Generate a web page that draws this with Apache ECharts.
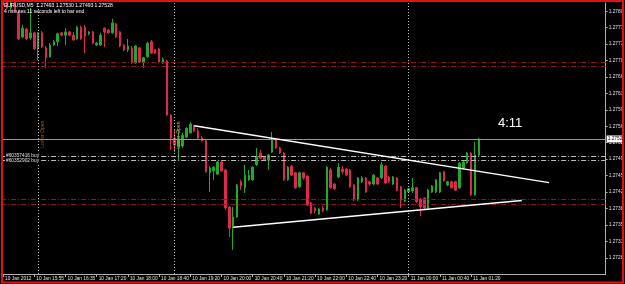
<!DOCTYPE html>
<html><head><meta charset="utf-8">
<script src="https://cdn.jsdelivr.net/npm/echarts@6/dist/echarts.min.js"></script>
<style>html,body{margin:0;padding:0;background:#000}#c{width:625px;height:284px}</style>
</head><body><div id="c"></div><script>
// ---- data (EURUSD M5, 10-11 Jan 2012) ----
const opens  = [1.27813,1.27820,1.27807,1.27820,1.27796,1.27745,1.27762,1.27743,1.27754,1.27722,1.27754,1.27722,1.27703,1.27728,1.27735,1.27754,1.27749,1.27756,1.27749,1.27741,1.27766,1.27766,1.27752,1.27756,1.27728,1.27728,1.27764,1.27760,1.27754,1.27773,1.27756,1.27728,1.27718,1.27722,1.27690,1.27722,1.27692,1.27703,1.27735,1.27718,1.27720,1.27690,1.27694,1.27579,1.27530,1.27511,1.27513,1.27532,1.27541,1.27556,1.27545,1.27530,1.27524,1.27456,1.27460,1.27453,1.27479,1.27462,1.27383,1.27341,1.27362,1.27437,1.27424,1.27441,1.27441,1.27473,1.27498,1.27490,1.27483,1.27500,1.27526,1.27509,1.27498,1.27441,1.27470,1.27456,1.27426,1.27456,1.27449,1.27392,1.27381,1.27368,1.27381,1.27377,1.27462,1.27432,1.27447,1.27464,1.27464,1.27462,1.27430,1.27398,1.27437,1.27445,1.27437,1.27432,1.27445,1.27445,1.27470,1.27447,1.27432,1.27445,1.27426,1.27396,1.27415,1.27417,1.27424,1.27400,1.27402,1.27381,1.27415,1.27415,1.27415,1.27458,1.27430,1.27437,1.27437,1.27424,1.27466,1.27477,1.27498,1.27409,1.27493];
const closes = [1.27820,1.27807,1.27818,1.27803,1.27741,1.27764,1.27741,1.27754,1.27720,1.27754,1.27724,1.27701,1.27728,1.27735,1.27752,1.27749,1.27756,1.27749,1.27739,1.27766,1.27741,1.27747,1.27756,1.27732,1.27732,1.27749,1.27756,1.27754,1.27775,1.27745,1.27726,1.27718,1.27726,1.27690,1.27726,1.27692,1.27701,1.27732,1.27711,1.27711,1.27692,1.27698,1.27579,1.27530,1.27515,1.27526,1.27536,1.27551,1.27560,1.27545,1.27530,1.27524,1.27458,1.27466,1.27468,1.27479,1.27460,1.27381,1.27338,1.27362,1.27430,1.27428,1.27451,1.27451,1.27468,1.27490,1.27487,1.27483,1.27494,1.27528,1.27509,1.27498,1.27441,1.27468,1.27451,1.27424,1.27456,1.27445,1.27387,1.27370,1.27375,1.27379,1.27375,1.27468,1.27424,1.27422,1.27468,1.27458,1.27451,1.27426,1.27398,1.27445,1.27445,1.27415,1.27432,1.27451,1.27432,1.27473,1.27434,1.27437,1.27447,1.27419,1.27398,1.27419,1.27422,1.27424,1.27394,1.27383,1.27381,1.27419,1.27428,1.27441,1.27456,1.27439,1.27437,1.27424,1.27419,1.27477,1.27479,1.27498,1.27409,1.27494,1.27528];
const lows   = [1.27807,1.27805,1.27803,1.27798,1.27739,1.27743,1.27739,1.27739,1.27718,1.27696,1.27722,1.27679,1.27701,1.27726,1.27726,1.27747,1.27728,1.27747,1.27737,1.27739,1.27739,1.27711,1.27749,1.27730,1.27726,1.27726,1.27724,1.27752,1.27752,1.27743,1.27724,1.27715,1.27713,1.27688,1.27688,1.27690,1.27679,1.27701,1.27709,1.27709,1.27690,1.27688,1.27577,1.27505,1.27500,1.27483,1.27509,1.27530,1.27539,1.27543,1.27528,1.27522,1.27456,1.27415,1.27441,1.27451,1.27458,1.27377,1.27319,1.27292,1.27360,1.27419,1.27413,1.27439,1.27439,1.27470,1.27485,1.27481,1.27462,1.27498,1.27507,1.27496,1.27439,1.27439,1.27449,1.27422,1.27424,1.27441,1.27385,1.27368,1.27370,1.27366,1.27372,1.27375,1.27422,1.27419,1.27445,1.27453,1.27449,1.27424,1.27396,1.27396,1.27434,1.27413,1.27428,1.27430,1.27430,1.27443,1.27432,1.27434,1.27430,1.27417,1.27381,1.27394,1.27413,1.27413,1.27392,1.27364,1.27379,1.27379,1.27413,1.27413,1.27413,1.27437,1.27428,1.27422,1.27417,1.27422,1.27464,1.27475,1.27407,1.27407,1.27493];
const highs  = [1.27824,1.27824,1.27822,1.27824,1.27801,1.27771,1.27764,1.27807,1.27756,1.27756,1.27758,1.27726,1.27732,1.27739,1.27754,1.27756,1.27764,1.27758,1.27756,1.27769,1.27769,1.27771,1.27758,1.27758,1.27735,1.27754,1.27766,1.27762,1.27784,1.27775,1.27758,1.27730,1.27741,1.27726,1.27728,1.27724,1.27703,1.27735,1.27739,1.27720,1.27722,1.27701,1.27696,1.27581,1.27547,1.27547,1.27541,1.27553,1.27564,1.27558,1.27551,1.27534,1.27526,1.27470,1.27470,1.27481,1.27481,1.27464,1.27385,1.27383,1.27432,1.27441,1.27473,1.27462,1.27470,1.27509,1.27505,1.27492,1.27496,1.27543,1.27528,1.27511,1.27500,1.27470,1.27473,1.27458,1.27458,1.27458,1.27451,1.27394,1.27383,1.27381,1.27385,1.27470,1.27466,1.27434,1.27477,1.27470,1.27466,1.27464,1.27432,1.27447,1.27449,1.27447,1.27439,1.27453,1.27447,1.27479,1.27473,1.27449,1.27449,1.27447,1.27428,1.27422,1.27424,1.27445,1.27426,1.27402,1.27404,1.27422,1.27430,1.27443,1.27458,1.27460,1.27439,1.27439,1.27439,1.27479,1.27481,1.27500,1.27500,1.27522,1.27530];
const xTickLabels = ['10 Jan 2012','10 Jan 15:55','10 Jan 16:35','10 Jan 17:20','10 Jan 18:00','10 Jan 18:40','10 Jan 19:20','10 Jan 20:00','10 Jan 20:40','10 Jan 21:20','10 Jan 22:00','10 Jan 22:40','10 Jan 23:20','11 Jan 00:00','11 Jan 00:40','11 Jan 01:20'];
const yTickValues = [1.27240,1.27275,1.27310,1.27345,1.27380,1.27415,1.27450,1.27485,1.27520,1.27555,1.27590,1.27625,1.27660,1.27695,1.27730,1.27765,1.27800];
const yTickLabels = ['1.2724','1.2728','1.2731','1.2735','1.2738','1.2742','1.2745','1.2749','1.2752','1.2756','1.2759','1.2763','1.2766','1.2770','1.2773','1.2777','1.2780'];
const bidPrice = 1.27528;
const bidLabel = '1.2752';
const orderPrices = [1.27492, 1.27482];
const orderLabels = ['#60357416 buy', '#60352902 buy'];
const stopPrices = [1.27692, 1.27683, 1.27400, 1.27389];
const vLineIndex = [9, 44, 104];
const upperTrend = [[49, 1.27556], [140, 1.27435]];
const lowerTrend = [[59, 1.27340], [133, 1.27397]];
const timerText = '4:11';
const timerPos = [130, 1.27562];
const titleLines = ['EURUSD,M5  1.27493 1.27530 1.27493 1.27528', '4 minutes 11 seconds left to bar end'];
const vTexts = [{idx: 9, price: 1.27538, text: 'Lower Open', color: '#9a5a30'}, {idx: 44, price: 1.27536, text: 'Lower Open', color: '#d0a858'}];

// category labels: one per 5-minute bar (16:40 bar missing), plus empty future slots
const nCats = 155;
const categories = [];
(function(){
  let t = Date.UTC(2012,0,10,15,15);
  for (let i=0;i<nCats;i++){
    const d = new Date(t);
    const hh = String(d.getUTCHours()).padStart(2,'0'), mm = String(d.getUTCMinutes()).padStart(2,'0');
    categories.push(d.getUTCDate()+' Jan '+hh+':'+mm);
    t += (i===16 ? 10 : 5)*60000;
  }
})();

const GREEN = '#1faa2a', RED = '#e0284f';
const candleData = opens.map((o,i)=>[o, closes[i], lows[i], highs[i]]);
const showTick = (idx)=> idx % 8 === 0 && idx/8 < xTickLabels.length;

const chart = echarts.init(document.getElementById('c'), null, {renderer:'canvas'});
const markLines = [];
markLines.push({yAxis: bidPrice, lineStyle:{color:'#9a9a9a', type:'solid', width:1},
  label:{show:true, position:'end', distance:1, formatter: bidLabel, color:'#000', backgroundColor:'#ffffff', fontSize:4.8, padding:[1,1,1,1], fontFamily:'Liberation Sans'}});
orderPrices.forEach(p=>markLines.push({yAxis:p, lineStyle:{color:'#bdbdbd', type:[5,2,1,2], width:1}, label:{show:false}}));
stopPrices.forEach(p=>markLines.push({yAxis:p, lineStyle:{color:'#8c1a1a', type:[5,2,1,2], width:1}, label:{show:false}}));
vLineIndex.forEach(ix=>markLines.push({xAxis: ix, lineStyle:{color:'#bfbfbf', type:[1,2], width:1}, label:{show:false}}));
[upperTrend, lowerTrend].forEach(tl=>markLines.push([{coord: tl[0], lineStyle:{color:'#ffffff', type:'solid', width:1.5}}, {coord: tl[1]}]));

chart.setOption({
  animation:false,
  backgroundColor:'#000',
  grid:{left:1.15, right:19.35, top:3, bottom:10, containLabel:false, outerBoundsMode:'none'},
  xAxis:{type:'category', data:categories, boundaryGap:true,
    axisLine:{lineStyle:{color:'#b0b0b0', width:1}},
    axisTick:{show:true, alignWithLabel:true, interval:(i)=>showTick(i), length:3, lineStyle:{color:'#b0b0b0'}},
    axisLabel:{show:true, interval:(i)=>showTick(i), formatter:(v,i)=> showTick(i) ? xTickLabels[i/8] : '', align:'left', color:'#e0e0e0', fontSize:4.8, margin:2, padding:[0,0,0,2], fontFamily:'Liberation Sans'},
    splitLine:{show:false}},
  yAxis:{type:'value', position:'right', min:1.272404, max:1.278176, scale:true,
    axisLine:{show:true, lineStyle:{color:'#b0b0b0', width:1}},
    axisTick:{show:true, customValues:yTickValues, length:2, lineStyle:{color:'#b0b0b0'}},
    axisLabel:{show:true, customValues:yTickValues, formatter:(v)=>{const k=yTickValues.findIndex(t=>Math.abs(t-v)<1e-7); return k>=0?yTickLabels[k]:'';}, color:'#e0e0e0', fontSize:4.8, margin:3, padding:[0,0,4,0], fontFamily:'Liberation Sans'},
    splitLine:{show:false}},
  series:[{
    type:'candlestick', data:candleData, barWidth:2, clip:true,
    itemStyle:{color:GREEN, color0:RED, borderColor:GREEN, borderColor0:RED, borderWidth:1},
    markLine:{silent:true, symbol:['none','none'], animation:false, precision:5, data:markLines}
  }]
});

// text annotations anchored to data coordinates
const gfx = [];
orderPrices.forEach((p,k)=>{
  const y = chart.convertToPixel({yAxisIndex:0}, p);
  gfx.push({type:'text', x:5, y:y, z:100, style:{text:orderLabels[k], fill:'#e0e0e0', fontSize:4.8, fontFamily:'Liberation Sans', verticalAlign:'middle', backgroundColor:'#000', padding:[0,1,0,1]}});
});
vTexts.forEach(v=>{
  const pt = chart.convertToPixel({xAxisIndex:0, yAxisIndex:0}, [v.idx, v.price]);
  gfx.push({type:'text', x:pt[0]+4, y:pt[1], rotation:Math.PI/2, z:100, style:{text:v.text, fill:v.color, fontSize:5, fontFamily:'Liberation Sans', align:'center', verticalAlign:'middle'}});
});
const tp = chart.convertToPixel({xAxisIndex:0, yAxisIndex:0}, timerPos);
gfx.push({type:'text', x:tp[0], y:tp[1], z:100, style:{text:timerText, fill:'#ffffff', fontSize:13, fontFamily:'Liberation Sans', align:'center', verticalAlign:'middle'}});
gfx.push({type:'text', x:4, y:3, z:100, style:{text:titleLines.join('\n'), fill:'#ffffff', fontSize:5, lineHeight:5.6, fontFamily:'Liberation Sans', verticalAlign:'top'}});
gfx.push({type:'rect', shape:{x:2, y:1, width:621, height:281.5}, z:101, style:{fill:'none', stroke:'#e01010', lineWidth:2}});
chart.setOption({graphic: gfx});
</script></body></html>
